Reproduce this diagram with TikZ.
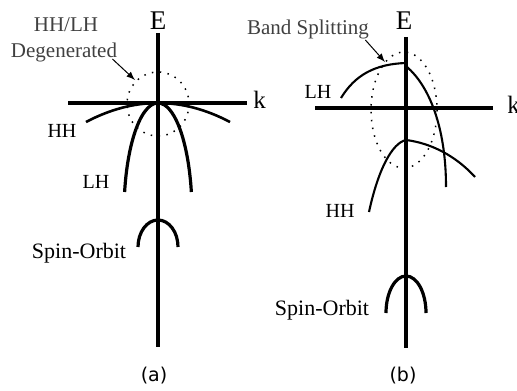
\documentclass[tikz,border=0pt]{standalone}
\usepackage{fontspec}
\setmainfont{Liberation Serif}
\newfontfamily\capfont{DejaVu Sans}
\begin{document}
\begin{tikzpicture}[x=0.5pt, y=-0.5pt,
  every node/.style={inner sep=0pt, anchor=base},
  axis/.style={line width=1.7pt},
  band/.style={line width=1.6pt},
  thinband/.style={line width=1.05pt},
  ring/.style={line width=0.75pt, dash pattern=on 0.75pt off 3.2pt},
  pointer/.style={-latex, line width=0.5pt},
  lbl/.style={font=\fontsize{10}{12}\selectfont},
  solbl/.style={font=\fontsize{11}{13}\selectfont},
  note/.style={font=\fontsize{10.5}{12}\selectfont, text=black!75},
  axlbl/.style={font=\fontsize{13.5}{16}\selectfont},
  panelcap/.style={font=\capfont\fontsize{9.5}{12}\selectfont}]
\useasboundingbox (0,0) rectangle (517,390);
%% --- (a): HH and LH degenerate at k=0 ---
\begin{scope}[xshift=79pt]
\draw[axis] (0,33) -- (0,347);
\draw[axis] (-90,103) -- (89,103);
\node[axlbl] (Ea) at (0,30) {E};
\node[axlbl, anchor=base west, font=\fontsize{12.5}{15}\selectfont] (ka) at (95,108) {k};
\draw[band, line width=1.3pt] (-72,122) .. controls (-24,96.7) and (24,96.7) .. (72,122);
\draw[band] (-33.4,192) arc[start angle=191, end angle=349, x radius=34, y radius=110];
\draw[ring] (0,104) ellipse [x radius=31, y radius=32];
\draw[band] (-20,247) arc[start angle=180, end angle=360, x radius=20, y radius=27];
\node[lbl] (hha) at (-96,137) {HH};
\node[lbl] (lha) at (-62,188) {LH};
\node[solbl] (soa) at (-79,258) {Spin-Orbit};
\node[note] (hhlh) at (-92,32) {HH/LH};
\node[note] (degen) at (-94,58) {Degenerated};
\coordinate (dega) at (-23,80);
\draw[pointer] ([xshift=-2.5pt,yshift=-0.5pt]degen.base east) -- (dega);
\node[panelcap] (capa) at (-4,381) {(a)};
\end{scope}
%% --- (b): strain splits the bands ---
\begin{scope}[xshift=203pt]
\draw[axis] (0,37) -- (0,348);
\draw[axis] (-91,108) -- (87,108);
\node[axlbl] (Eb) at (-2,30) {E};
\node[axlbl, anchor=base west, font=\fontsize{12.5}{15}\selectfont] (kb) at (101,113) {k};
\draw[thinband] (-65,98) .. controls (-51,75) and (-31,64) .. (0,63);
\draw[thinband] (1,67) .. controls (22,85) and (40,125) .. (40,187);
\draw[thinband] (-37,212) .. controls (-28,170) and (-14,143) .. (0,140);
\draw[thinband] (0,140) .. controls (24,143) and (49,155) .. (69,177);
\draw[ring] (-2,110) ellipse [x radius=33, y radius=58];
\draw[band] (-20,313) arc[start angle=180, end angle=360, x radius=20, y radius=37];
\node[lbl] (lhb) at (-88,98) {LH};
\node[lbl] (hhb) at (-66,217) {HH};
\node[solbl] (sob) at (-84,315) {Spin-Orbit};
\node[note] (split) at (-98,35) {Band Splitting};
\coordinate (splitb) at (-21,62);
\draw[pointer] ([xshift=-2pt,yshift=-2.5pt]split.base east) -- (splitb);
\node[panelcap] (capb) at (-3,381) {(b)};
\end{scope}
\end{tikzpicture}
\end{document}
